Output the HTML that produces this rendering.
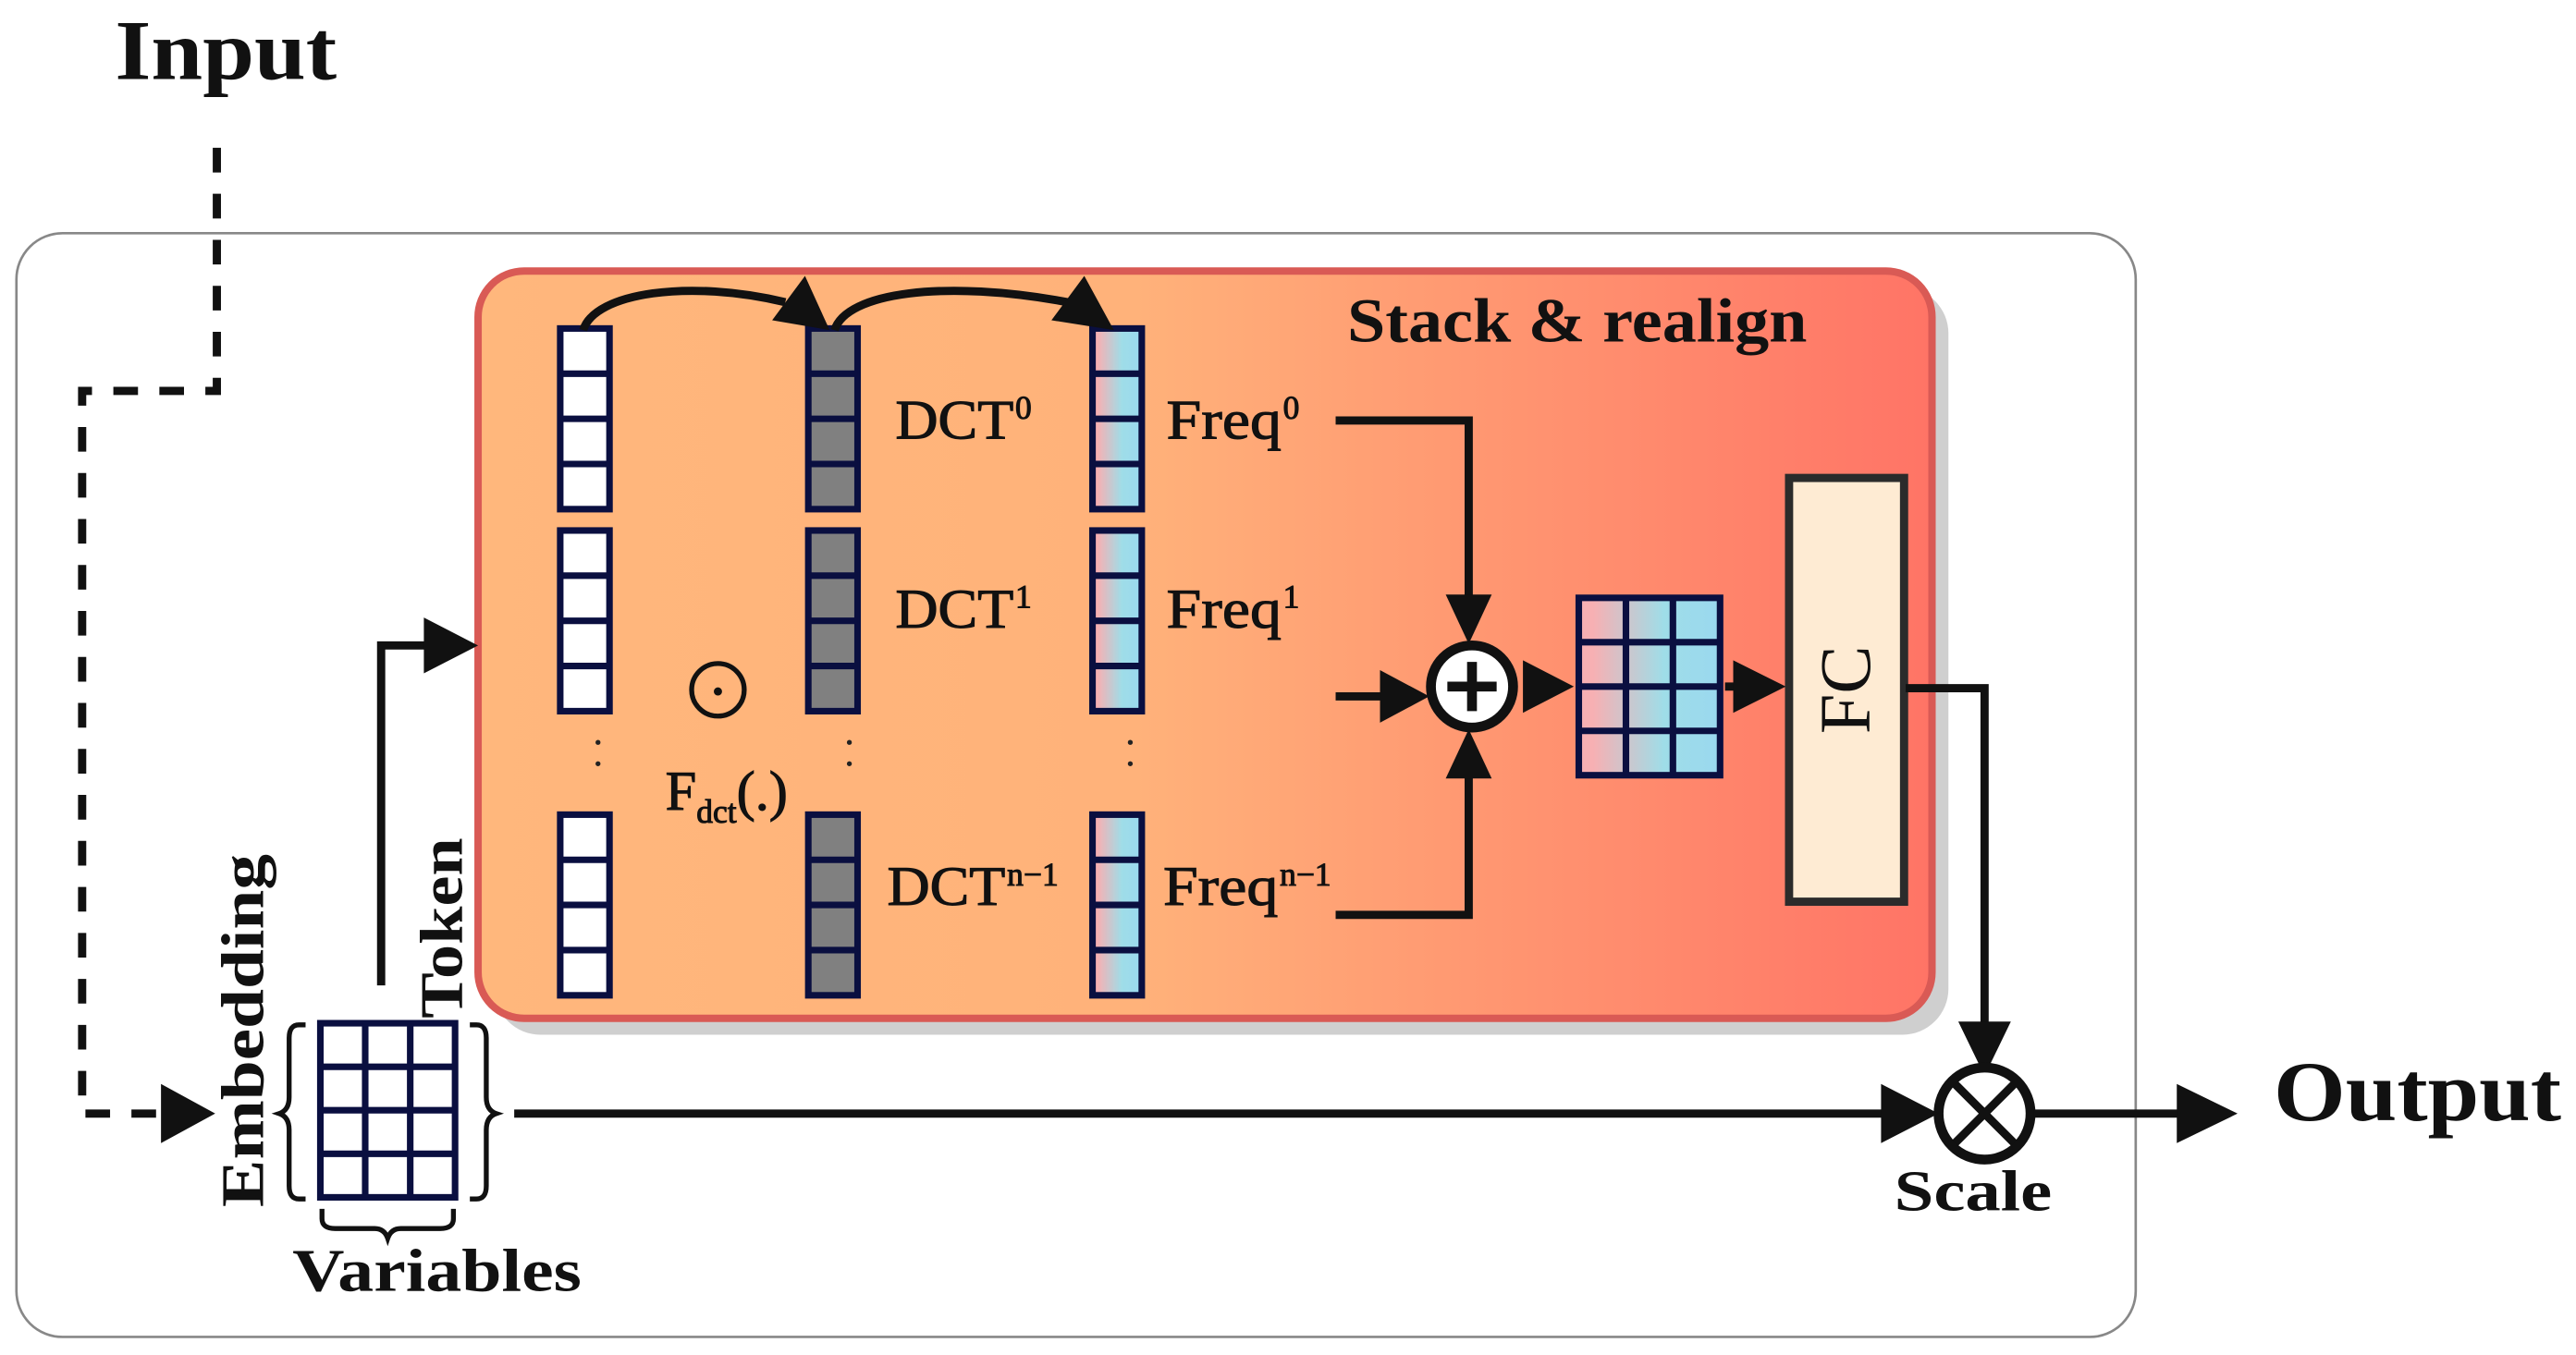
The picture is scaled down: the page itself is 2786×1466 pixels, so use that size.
<!DOCTYPE html>
<html><head><meta charset="utf-8"><style>html,body{margin:0;padding:0;background:#fff}svg{display:block}</style></head>
<body>
<svg width="2786" height="1466" viewBox="0 0 1568 825" preserveAspectRatio="none" xmlns="http://www.w3.org/2000/svg" font-family="'Liberation Serif', serif">
<defs>
<linearGradient id="bg" x1="0" x2="1" y1="0" y2="0">
<stop offset="0" stop-color="#ffb77c"/><stop offset="0.45" stop-color="#ffb27a"/><stop offset="1" stop-color="#ff7466"/>
</linearGradient>
<linearGradient id="pc" x1="0" x2="1" y1="0" y2="0">
<stop offset="0.1" stop-color="#f7b0b3"/><stop offset="0.6" stop-color="#9fdde8"/><stop offset="1" stop-color="#9ad8ef"/>
</linearGradient>
<g id="colW">
<rect x="0" y="0" width="30" height="110" fill="#fff" stroke="#0a0f40" stroke-width="4"/>
<path d="M0,27.5H30M0,55H30M0,82.5H30" stroke="#0a0f40" stroke-width="4"/></g>
<g id="colG">
<rect x="0" y="0" width="30" height="110" fill="#808080" stroke="#0a0f40" stroke-width="4"/>
<path d="M0,27.5H30M0,55H30M0,82.5H30" stroke="#0a0f40" stroke-width="4"/></g>
<g id="colP">
<rect x="0" y="0" width="30" height="110" fill="url(#pc)" stroke="#0a0f40" stroke-width="4"/>
<path d="M0,27.5H30M0,55H30M0,82.5H30" stroke="#0a0f40" stroke-width="4"/></g>
</defs>

<rect x="10" y="142" width="1290" height="672" rx="28" fill="#fff" stroke="#888" stroke-width="1.5"/>

<path d="M132,90 V238 H50 V678 H100" fill="none" stroke="#111" stroke-width="5" stroke-dasharray="15,13"/>
<path d="M98,660 L131,678 L98,696 z" fill="#111"/>
<text x="70" y="48" font-size="52" font-weight="bold" fill="#111" textLength="135" lengthAdjust="spacingAndGlyphs">Input</text>

<rect x="301" y="175" width="885" height="455" rx="28" fill="#cfcfcf"/>
<rect x="291" y="165" width="885" height="455" rx="28" fill="url(#bg)" stroke="#d95a55" stroke-width="4.5"/>
<text x="820" y="208" font-size="38" font-weight="bold" fill="#111" textLength="280" lengthAdjust="spacingAndGlyphs">Stack &amp; realign</text>

<use href="#colW" x="341" y="200"/><use href="#colW" x="341" y="323"/><use href="#colW" x="341" y="496"/>
<use href="#colG" x="492" y="200"/><use href="#colG" x="492" y="323"/><use href="#colG" x="492" y="496"/>
<use href="#colP" x="665" y="200"/><use href="#colP" x="665" y="323"/><use href="#colP" x="665" y="496"/>
<g fill="#222"><circle cx="364" cy="452" r="1.5"/><circle cx="364" cy="465" r="1.5"/><circle cx="517" cy="452" r="1.5"/><circle cx="517" cy="465" r="1.5"/><circle cx="688" cy="452" r="1.5"/><circle cx="688" cy="465" r="1.5"/></g>

<path d="M355,201 C362,178 420,170 478,184" fill="none" stroke="#111" stroke-width="5"/>
<path d="M508,201 C515,178 575,170 650,184" fill="none" stroke="#111" stroke-width="5"/>
<path d="M470,195 L490,168 L505,201 z" fill="#111"/>
<path d="M640,195 L660,168 L678,201 z" fill="#111"/>

<g font-size="34" fill="#111" stroke="#111" stroke-width="0.6">
<text x="545" y="267" textLength="72" lengthAdjust="spacingAndGlyphs">DCT</text><text x="618" y="255" font-size="20">0</text>
<text x="545" y="382" textLength="72" lengthAdjust="spacingAndGlyphs">DCT</text><text x="618" y="370" font-size="20">1</text>
<text x="540" y="551" textLength="72" lengthAdjust="spacingAndGlyphs">DCT</text><text x="613" y="539" font-size="20">n−1</text>
<text x="710" y="267" textLength="70" lengthAdjust="spacingAndGlyphs">Freq</text><text x="781" y="255" font-size="20">0</text>
<text x="710" y="382" textLength="70" lengthAdjust="spacingAndGlyphs">Freq</text><text x="781" y="370" font-size="20">1</text>
<text x="708" y="551" textLength="70" lengthAdjust="spacingAndGlyphs">Freq</text><text x="779" y="539" font-size="20">n−1</text>
<text x="405" y="493">F<tspan font-size="20" dy="8">dct</tspan><tspan dy="-8">(.)</tspan></text>
</g>
<circle cx="437" cy="420" r="16" fill="none" stroke="#111" stroke-width="3"/>
<circle cx="437" cy="421" r="2.5" fill="#111"/>

<path d="M813,256 H894 V372" fill="none" stroke="#111" stroke-width="5"/>
<path d="M880,362 L894,392 L908,362 z" fill="#111"/>
<path d="M813,557 H894 V464" fill="none" stroke="#111" stroke-width="5"/>
<path d="M880,474 L894,444 L908,474 z" fill="#111"/>
<path d="M813,424 H850" fill="none" stroke="#111" stroke-width="5"/>
<path d="M840,408 L870,424 L840,440 z" fill="#111"/>
<circle cx="896" cy="418" r="25" fill="#fff" stroke="#111" stroke-width="6"/>
<path d="M881,418H911M896,403V433" stroke="#111" stroke-width="6"/>
<path d="M927,402 L958,418 L927,434 z" fill="#111"/>

<rect x="961" y="364" width="86" height="108" fill="url(#pc)" stroke="#0a0f40" stroke-width="4"/>
<path d="M989.7,364V472M1018.3,364V472M961,391H1047M961,418H1047M961,445H1047" stroke="#0a0f40" stroke-width="4"/>
<path d="M1050,418 H1060" stroke="#111" stroke-width="5"/>
<path d="M1055,402 L1087,418 L1055,434 z" fill="#111"/>

<rect x="1089" y="291" width="70" height="258" fill="#feebd3" stroke="#2b2b2b" stroke-width="5"/>
<text transform="translate(1138,420) rotate(-90)" text-anchor="middle" font-size="44" fill="#111">FC</text>
<path d="M1160,419 H1208 V630" fill="none" stroke="#111" stroke-width="5"/>
<path d="M1192,622 L1208,655 L1224,622 z" fill="#111"/>

<circle cx="1208" cy="678" r="28" fill="#fff" stroke="#111" stroke-width="6"/>
<path d="M1190,660 L1226,696 M1226,660 L1190,696" stroke="#111" stroke-width="5"/>
<text x="1153" y="737" font-size="35" font-weight="bold" fill="#111" textLength="96" lengthAdjust="spacingAndGlyphs">Scale</text>
<path d="M313,678 H1160" stroke="#111" stroke-width="5"/>
<path d="M1145,660 L1180,678 L1145,696 z" fill="#111"/>
<path d="M1238,678 H1335" stroke="#111" stroke-width="5"/>
<path d="M1325,660 L1362,678 L1325,696 z" fill="#111"/>
<text x="1384" y="682" font-size="52" font-weight="bold" fill="#111" textLength="175" lengthAdjust="spacingAndGlyphs">Output</text>

<path d="M232,600 V393 H265" fill="none" stroke="#111" stroke-width="5"/>
<path d="M258,376 L291,393 L258,410 z" fill="#111"/>

<rect x="195" y="623" width="82" height="106" fill="#fff" stroke="#0a0f40" stroke-width="4"/>
<path d="M222.3,623V729M249.7,623V729M195,649.5H277M195,676H277M195,702.5H277" stroke="#0a0f40" stroke-width="4"/>
<path d="M186,624 H182 Q176,624 176,632 V668 Q176,676 170,678 Q176,680 176,688 V722 Q176,730 182,730 H186" fill="none" stroke="#111" stroke-width="3"/>
<path d="M286,624 H290 Q296,624 296,632 V668 Q296,676 302,678 Q296,680 296,688 V722 Q296,730 290,730 H286" fill="none" stroke="#111" stroke-width="3"/>
<path d="M196,736 V742 Q196,748 204,748 H228 Q234,748 236,754 Q238,748 244,748 H268 Q276,748 276,742 V736" fill="none" stroke="#111" stroke-width="3"/>
<text x="178" y="786" font-size="37" font-weight="bold" fill="#111" textLength="176" lengthAdjust="spacingAndGlyphs">Variables</text>
<text transform="translate(160,735) rotate(-90)" font-size="37" font-weight="bold" fill="#111" textLength="215" lengthAdjust="spacingAndGlyphs">Embedding</text>
<text transform="translate(281,620) rotate(-90)" font-size="37" font-weight="bold" fill="#111" textLength="110" lengthAdjust="spacingAndGlyphs">Token</text>
</svg>
</body></html>
